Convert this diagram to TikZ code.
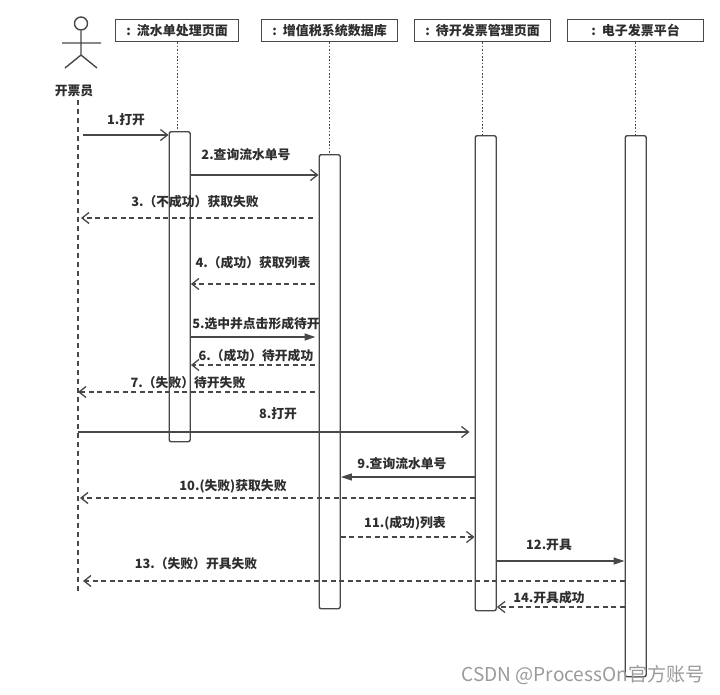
\documentclass[tikz,border=0pt]{standalone}
\usepackage{fontspec}
\setmainfont{Noto Sans CJK SC}
\usetikzlibrary{arrows.meta}
\definecolor{linegray}{HTML}{484848}
\definecolor{textgray}{HTML}{2E2E2E}
\definecolor{markgray}{HTML}{9A9A9A}
\tikzset{
  objbox/.style={draw=linegray, line width=1.4pt, anchor=north west, minimum height=22pt,
    inner sep=0pt, font=\fontsize{13}{14}\selectfont\bfseries, text=textgray},
  actbar/.style={draw=linegray, line width=1.4pt, rounded corners=2pt, anchor=north west,
    minimum width=21pt, inner sep=0pt},
  msglabel/.style={font=\fontsize{12.8}{14}\selectfont\bfseries, text=textgray, inner sep=0pt},
  lifeline/.style={draw=linegray, line width=1.3pt, dash pattern=on 1.6pt off 1.8pt},
  callmsg/.style={-{Straight Barb[length=7pt, width=11pt]}, draw=linegray, line width=1.3pt},
  syncmsg/.style={-{Triangle[length=11pt, width=7pt]}, draw=linegray, line width=1.3pt},
  backmsg/.style={callmsg, dash pattern=on 5pt off 3.5pt}
}
\begin{document}
\begin{tikzpicture}[x=1pt, y=-1pt]
  \useasboundingbox (0,0) rectangle (720,694);

  % actor
  \node[circle, draw=linegray, line width=1.4pt, minimum size=13pt, inner sep=0pt] (head) at (81,23.5) {};
  \coordinate (hip) at (81,55);
  \coordinate (armL) at (62,43);
  \coordinate (armR) at (101,43);
  \coordinate (legL) at (65,68);
  \coordinate (legR) at (97,68);
  \draw[draw=linegray, line width=1.4pt] (head.south) -- (hip) (armL) -- (armR) (legL) -- (hip) -- (legR);
  \node[msglabel] (clerk) at (74,91) {开票员};
  \coordinate (clerktop) at (78,100);
  \coordinate (clerkend) at (78,593);
  \draw[draw=linegray, line width=1.3pt, dash pattern=on 5pt off 4pt] (clerktop) -- (clerkend);

  % objects
  \node[objbox, minimum width=123pt] (flow) at (115,19) {:\ \ 流水单处理页面};
  \node[objbox, minimum width=136pt] (vat) at (261,19) {:\ \ 增值税系统数据库};
  \node[objbox, minimum width=136pt] (pending) at (414,19) {:\ \ 待开发票管理页面};
  \node[objbox, minimum width=136pt] (einv) at (567,19) {:\ \ 电子发票平台};

  % activations
  \node[actbar, minimum height=310pt] (flowbar) at (168.5,131) {};
  \node[actbar, minimum height=454pt] (vatbar) at (318.5,154) {};
  \node[actbar, minimum height=475pt] (pendingbar) at (474.5,135) {};
  \node[actbar, minimum height=541pt] (einvbar) at (624.5,135) {};

  \draw[lifeline] (flow.south) -- (flow.south |- flowbar.north);
  \draw[lifeline] (vat.south) -- (vat.south |- vatbar.north);
  \draw[lifeline] (pending.south) -- (pending.south |- pendingbar.north);
  \draw[lifeline] (einv.south) -- (einv.south |- einvbar.north);

  % messages
  \draw[callmsg] ([xshift=5pt]clerktop |- 0,135) -- (flowbar.west |- 0,135);
  \node[msglabel] (m1) at (126,120) {1.打开};
  \draw[callmsg] (flowbar.east |- 0,175) -- (vatbar.west |- 0,175);
  \node[msglabel] (m2) at (246,155) {2.查询流水单号};
  \draw[backmsg] ([xshift=-6pt]vatbar.west |- 0,218) -- ([xshift=3pt]clerktop |- 0,218);
  \node[msglabel] (m3) at (195,202) {3.（不成功）获取失败};
  \draw[backmsg] ([xshift=-4pt]vatbar.west |- 0,284) -- (flowbar.east |- 0,284);
  \node[msglabel] (m4) at (253,263) {4.（成功）获取列表};
  \draw[syncmsg] (flowbar.east |- 0,337) -- ([xshift=-3pt]vatbar.west |- 0,337);
  \node[msglabel] (m5) at (256,324) {5.选中并点击形成待开};
  \draw[backmsg] ([xshift=-4pt]vatbar.west |- 0,365) -- (flowbar.east |- 0,365);
  \node[msglabel] (m6) at (256,356) {6.（成功）待开成功};
  \draw[backmsg] ([xshift=-4pt]vatbar.west |- 0,392) -- (clerktop |- 0,392);
  \node[msglabel] (m7) at (188,383) {7.（失败）待开失败};
  \draw[callmsg] (clerktop |- 0,432) -- ([xshift=-5pt]pendingbar.west |- 0,432);
  \node[msglabel] (m8) at (278,414) {8.打开};
  \draw[syncmsg] (pendingbar.west |- 0,477) -- (vatbar.east |- 0,477);
  \node[msglabel] (m9) at (402,463.5) {9.查询流水单号};
  \draw[backmsg] (pendingbar.west |- 0,498) -- ([xshift=2pt]clerktop |- 0,498);
  \node[msglabel] (m10) at (233,486) {10.(失败)获取失败};
  \draw[backmsg] (vatbar.east |- 0,537) -- (pendingbar.west |- 0,537);
  \node[msglabel] (m11) at (405,523) {11.(成功)列表};
  \draw[syncmsg] (pendingbar.east |- 0,561) -- (einvbar.west |- 0,561);
  \node[msglabel] (m12) at (549,545) {12.开具};
  \draw[backmsg] (einvbar.west |- 0,581) -- ([xshift=5pt]clerktop |- 0,581);
  \node[msglabel] (m13) at (196,564) {13.（失败）开具失败};
  \draw[backmsg] (einvbar.west |- 0,607) -- (pendingbar.east |- 0,607);
  \node[msglabel] (m14) at (549,597.5) {14.开具成功};

  \node[font=\fontsize{19.1}{20}\selectfont, text=markgray, inner sep=0pt] (mark) at (583,675) {CSDN @ProcessOn官方账号};
\end{tikzpicture}
\end{document}
